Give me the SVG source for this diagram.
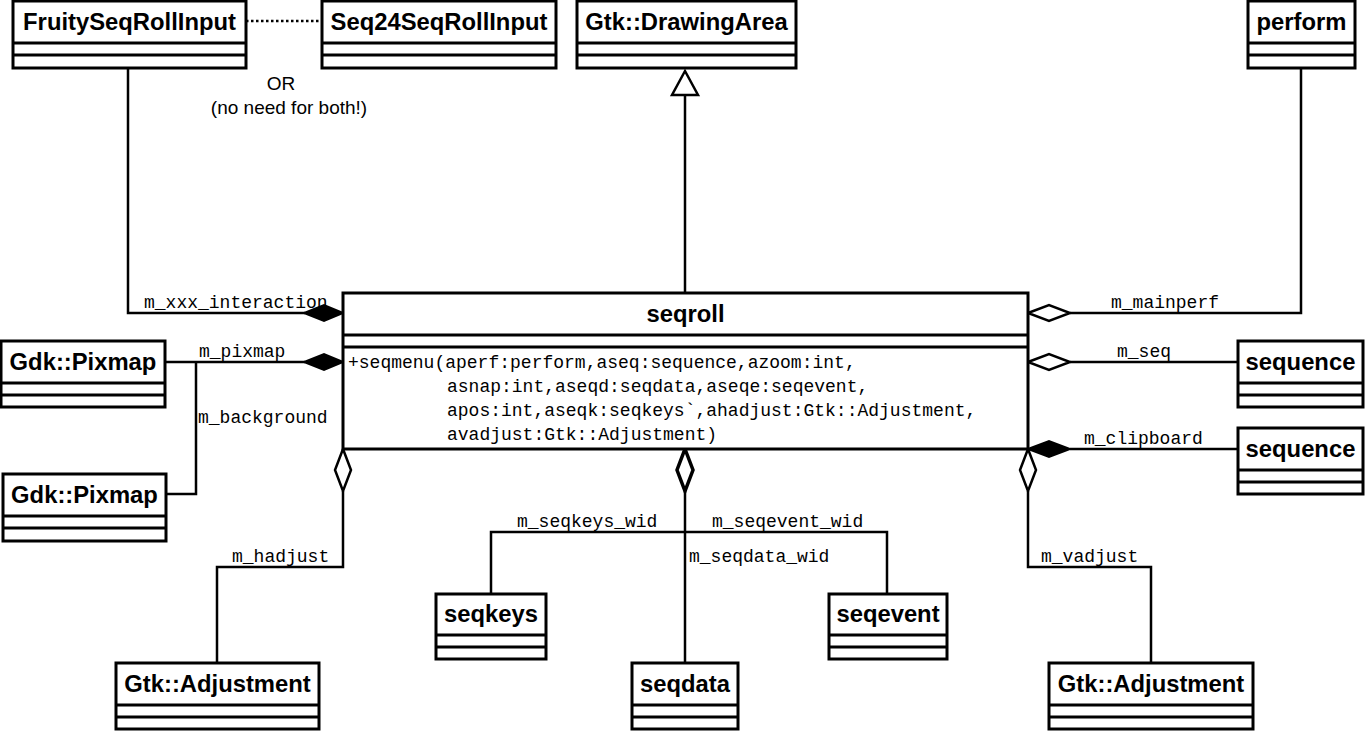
<svg xmlns="http://www.w3.org/2000/svg" width="1365" height="731" viewBox="0 0 1365 731">
<style>
.box{fill:#fff;stroke:#000;stroke-width:3}
.sep{stroke:#000;stroke-width:3}
.name{font-family:"Liberation Sans",Arial,sans-serif;font-weight:bold;font-size:23.8px;text-anchor:middle;fill:#000}
.lbl{font-family:"Liberation Mono","Courier New",monospace;font-size:18px;fill:#000}
.ln{fill:none;stroke:#000;stroke-width:2.5}
.dot{fill:none;stroke:#000;stroke-width:2.5;stroke-dasharray:2.5 2.5}
.fd{fill:#000;stroke:#000;stroke-width:2}
.hd{fill:#fff;stroke:#000;stroke-width:2.5}
.tri{fill:#fff;stroke:#000;stroke-width:2.5}
.plain{font-family:"Liberation Sans",Arial,sans-serif;font-size:19px;text-anchor:middle;fill:#000}
</style>
<rect width="1365" height="731" fill="#fff"/>

<g id="connectors">
  <path class="dot" d="M246,21 H322"/>
  <path class="ln" d="M128,68 V313 H305"/>
  <path class="ln" d="M685,293 V95"/>
  <path class="ln" d="M1301,68 V313 H1070"/>
  <path class="ln" d="M165,362 H305"/>
  <path class="ln" d="M166,494 H196 V362"/>
  <path class="ln" d="M1238,362 H1070"/>
  <path class="ln" d="M1238,449 H1070"/>
  <path class="ln" d="M343,491 V567 H217 V663"/>
  <path class="ln" d="M1028,491 V567 H1151 V663"/>
  <path class="ln" d="M685,491 V663"/>
  <path class="ln" d="M491,594 V532 H887 V594"/>
  <polygon class="tri" points="685,71 698,95 672,95"/>
  <polygon class="fd" points="343,313 324,305 304,313 324,321"/>
  <polygon class="fd" points="343,362 324,354 304,362 324,370"/>
  <polygon class="hd" points="1028,313 1049,305 1070,313 1049,321"/>
  <polygon class="hd" points="1028,362 1049,354 1070,362 1049,370"/>
  <polygon class="fd" points="1028,449 1049,441 1070,449 1049,457"/>
  <polygon class="hd" points="343,449 351,470 343,491 335,470"/>
  <polygon class="hd" points="685,449 693,470 685,491 677,470" style="stroke-width:3.5"/>
  <polygon class="hd" points="1028,449 1036,470 1028,491 1020,470"/>
  <text class="plain" x="281" y="90">OR</text>
  <text class="plain" x="289" y="114">(no need for both!)</text>
  <text class="lbl" x="144" y="308">m_xxx_interaction</text>
  <text class="lbl" x="199" y="357">m_pixmap</text>
  <text class="lbl" x="198" y="423">m_background</text>
  <text class="lbl" x="1111" y="308">m_mainperf</text>
  <text class="lbl" x="1117" y="357">m_seq</text>
  <text class="lbl" x="1084" y="444">m_clipboard</text>
  <text class="lbl" x="232" y="562">m_hadjust</text>
  <text class="lbl" x="1041" y="562">m_vadjust</text>
  <text class="lbl" x="517" y="527">m_seqkeys_wid</text>
  <text class="lbl" x="712" y="527">m_seqevent_wid</text>
  <text class="lbl" x="689" y="562">m_seqdata_wid</text>
</g>

<g id="FruitySeqRollInput">
  <rect class="box" x="13" y="1" width="233" height="67"/>
  <path class="sep" d="M13,43 H246 M13,55 H246"/>
  <text class="name" x="129.5" y="30">FruitySeqRollInput</text>
</g>
<g id="Seq24SeqRollInput">
  <rect class="box" x="322" y="1" width="234" height="67"/>
  <path class="sep" d="M322,43 H556 M322,55 H556"/>
  <text class="name" x="439" y="30">Seq24SeqRollInput</text>
</g>
<g id="DrawingArea">
  <rect class="box" x="577" y="1" width="219" height="67"/>
  <path class="sep" d="M577,43 H796 M577,55 H796"/>
  <text class="name" x="686.5" y="30">Gtk::DrawingArea</text>
</g>
<g id="perform">
  <rect class="box" x="1248" y="1" width="107" height="67"/>
  <path class="sep" d="M1248,43 H1355 M1248,55 H1355"/>
  <text class="name" x="1301.5" y="30">perform</text>
</g>
<g id="Pixmap1">
  <rect class="box" x="1" y="341" width="164" height="66"/>
  <path class="sep" d="M1,383 H165 M1,395 H165"/>
  <text class="name" x="83" y="370">Gdk::Pixmap</text>
</g>
<g id="Pixmap2">
  <rect class="box" x="3" y="474" width="163" height="67"/>
  <path class="sep" d="M3,516 H166 M3,528 H166"/>
  <text class="name" x="84.5" y="503">Gdk::Pixmap</text>
</g>
<g id="seqroll">
  <rect class="box" x="343" y="293" width="685" height="156"/>
  <path class="sep" d="M343,335 H1028 M343,347 H1028"/>
  <text class="name" x="685.5" y="322">seqroll</text>
  <text class="lbl" x="348" y="368">+seqmenu(aperf:perform,aseq:sequence,azoom:int,</text>
  <text class="lbl" x="447" y="392">asnap:int,aseqd:seqdata,aseqe:seqevent,</text>
  <text class="lbl" x="447" y="416">apos:int,aseqk:seqkeys`,ahadjust:Gtk::Adjustment,</text>
  <text class="lbl" x="447" y="440">avadjust:Gtk::Adjustment)</text>
</g>
<g id="sequence1">
  <rect class="box" x="1238" y="341" width="125" height="66"/>
  <path class="sep" d="M1238,383 H1363 M1238,395 H1363"/>
  <text class="name" x="1300.5" y="370">sequence</text>
</g>
<g id="sequence2">
  <rect class="box" x="1238" y="428" width="125" height="66"/>
  <path class="sep" d="M1238,470 H1363 M1238,482 H1363"/>
  <text class="name" x="1300.5" y="457">sequence</text>
</g>
<g id="seqkeys">
  <rect class="box" x="436" y="594" width="110" height="65"/>
  <path class="sep" d="M436,635 H546 M436,647 H546"/>
  <text class="name" x="491" y="622">seqkeys</text>
</g>
<g id="seqevent">
  <rect class="box" x="829" y="594" width="118" height="65"/>
  <path class="sep" d="M829,635 H947 M829,647 H947"/>
  <text class="name" x="888" y="622">seqevent</text>
</g>
<g id="AdjustmentL">
  <rect class="box" x="116" y="663" width="203" height="66"/>
  <path class="sep" d="M116,705 H319 M116,717 H319"/>
  <text class="name" x="217.5" y="692">Gtk::Adjustment</text>
</g>
<g id="seqdata">
  <rect class="box" x="632" y="663" width="106" height="66"/>
  <path class="sep" d="M632,705 H738 M632,717 H738"/>
  <text class="name" x="685" y="692">seqdata</text>
</g>
<g id="AdjustmentR">
  <rect class="box" x="1049" y="663" width="204" height="66"/>
  <path class="sep" d="M1049,705 H1253 M1049,717 H1253"/>
  <text class="name" x="1151" y="692">Gtk::Adjustment</text>
</g>
</svg>
